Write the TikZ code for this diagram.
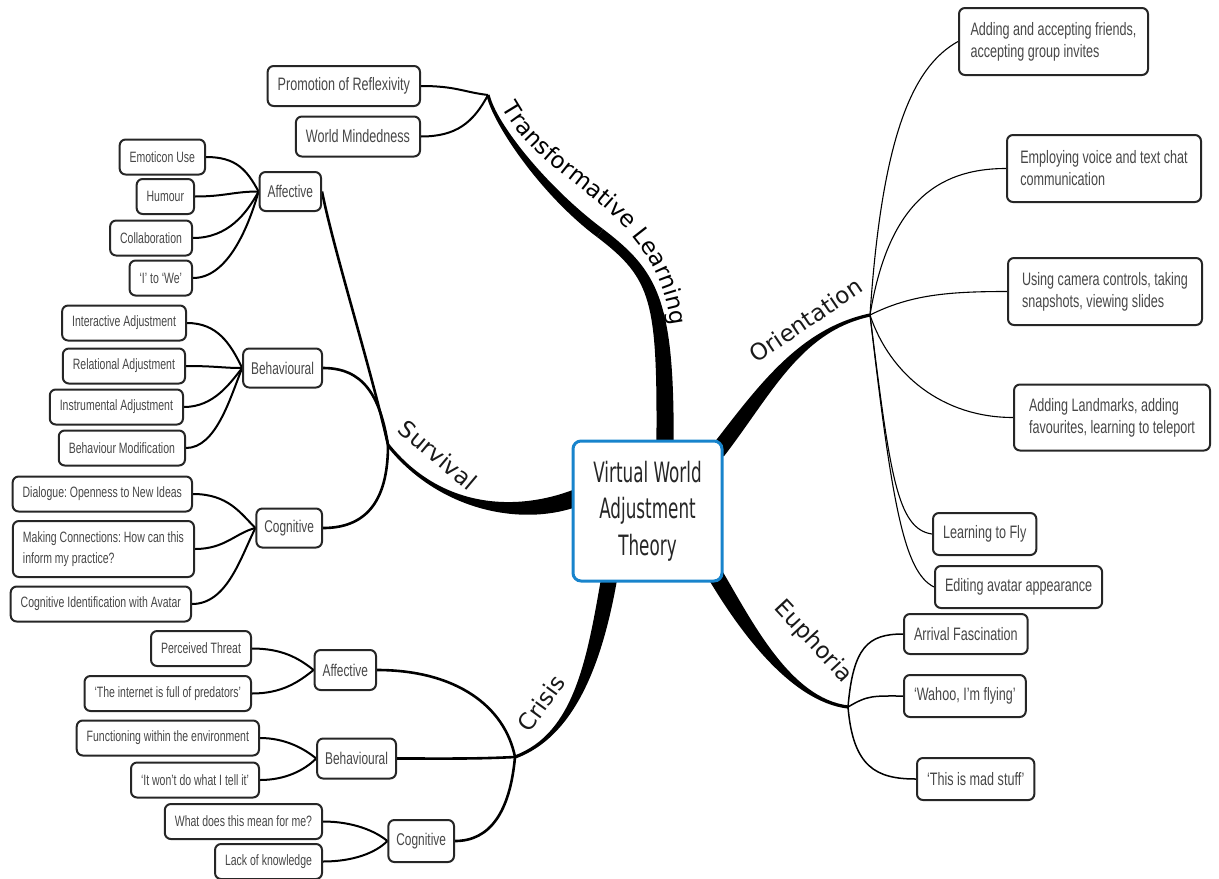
\documentclass[tikz,border=0pt]{standalone}
\usepackage{fontspec}
\setmainfont{Liberation Sans}
\newfontfamily\boxfont{Liberation Sans}[FakeStretch=0.7]
\newfontfamily\labelfont{DejaVu Sans}
\newfontfamily\centrefont{DejaVu Sans}[FakeStretch=0.6]
\usetikzlibrary{calc,decorations.text}
\definecolor{vwblue}{RGB}{24,132,204}
\pgfdeclarelayer{bg}
\pgfsetlayers{bg,main}
\frenchspacing
\newcommand{\tlfont}{\labelfont\fontsize{11.5}{12}\selectfont}
% tapered branch: start, control 1, control 2, end, half width at start, at end
\newcommand{\mmbranch}[6]{%
  \coordinate (bA) at ($(#1)!#5!90:(#2)$);
  \coordinate (bB) at ($(#1)!#5!-90:(#2)$);
  \coordinate (bC) at ($(#4)!#6!-90:(#3)$);
  \coordinate (bD) at ($(#4)!#6!90:(#3)$);
  \fill (bA) .. controls ($(#2)+(bA)-(#1)$) and ($(#3)+(bC)-(#4)$) .. (bC)
    -- (bD) .. controls ($(#3)+(bD)-(#4)$) and ($(#2)+(bB)-(#1)$) .. (bB) -- cycle;
}

\begin{document}
\begin{tikzpicture}[x=0.5pt,y=-0.5pt,
    box/.style={draw=black!85,line width=1pt,rounded corners=3pt,fill=white,
                text=black!72,inner xsep=5pt,inner ysep=2pt,align=left},
    big/.style={box,font=\boxfont\fontsize{9}{11}\selectfont,minimum height=20pt},
    mid/.style={box,font=\boxfont\fontsize{8.5}{10}\selectfont,minimum height=19.5pt,inner xsep=4pt},
    small/.style={box,font=\boxfont\fontsize{7.5}{10.5}\selectfont,minimum height=17.5pt},
    stem/.style={line width=1.3pt},
    leaf/.style={line width=1pt},
    fine/.style={line width=0.75pt},
    thin/.style={line width=0.55pt},
    blabel/.style={font=\labelfont\fontsize{11.5}{12}\selectfont,text=black!90,inner sep=0pt}]

  \useasboundingbox (0,0) rectangle (1219,878);

  \node[draw=vwblue,line width=1.5pt,rounded corners=4pt,fill=white,minimum width=74.5pt,
        minimum height=70pt,align=center,font=\centrefont\fontsize{14}{18.3}\selectfont,
        text=black!85] (VW) at (647.5,511) {Virtual World\\Adjustment\\Theory};

  \coordinate (TL) at (488,95);
  \coordinate (TLm) at (600,233);
  \coordinate (OR) at (870,315);
  \coordinate (EU) at (848,707);
  \coordinate (SV) at (388,445);
  \coordinate (CR) at (515,757);
  \coordinate (VWtl) at ($(VW.north)+(17.5,6)$);
  \coordinate (VWor) at ($(VW.north east)+(-6,12)$);
  \coordinate (VWeu) at ($(VW.south east)+(-9,-9)$);
  \coordinate (VWcr) at ($(VW.south)+(-38,-6)$);
  \coordinate (VWsv) at ($(VW.west)+(7,-14)$);

  \node[big,anchor=east] (PR) at (421,86) {Promotion of Reflexivity};
  \node[big,anchor=east] (WM) at (421,136.5) {World Mindedness};

  \node[mid,anchor=east] (SAF) at (322,191.5) {Affective};
  \node[mid,anchor=east] (SBE) at (323,368) {Behavioural};
  \node[mid,anchor=east] (SCO) at (323,528) {Cognitive};
  \node[small,anchor=east] (EM) at (206,157) {Emoticon Use};
  \node[small,anchor=east] (HU) at (195,196.5) {Humour};
  \node[small,anchor=east] (CL) at (193,238) {Collaboration};
  \node[small,anchor=east] (IW) at (193,278) {‘I’ to ‘We’};
  \node[small,anchor=east] (IA) at (187,323) {Interactive Adjustment};
  \node[small,anchor=east] (RA) at (186,366) {Relational Adjustment};
  \node[small,anchor=east] (NA) at (184,407) {Instrumental Adjustment};
  \node[small,anchor=east] (BM) at (186,448) {Behaviour Modification};
  \node[small,anchor=east] (DI) at (193,494) {Dialogue: Openness to New Ideas};
  \node[small,anchor=east,minimum height=28pt] (MC) at (195,549) {Making Connections: How can this\\inform my practice?};
  \node[small,anchor=east] (CI) at (192,604) {Cognitive Identification with Avatar};

  \node[mid,anchor=east,minimum height=20pt] (CAF) at (377,670) {Affective};
  \node[mid,anchor=east,minimum height=20pt] (CBE) at (397,758.5) {Behavioural};
  \node[mid,anchor=east,minimum height=21pt] (CCO) at (455,841) {Cognitive};
  \node[small,anchor=east] (PT) at (252,648.5) {Perceived Threat};
  \node[small,anchor=east] (IP) at (252,693.5) {‘The internet is full of predators’};
  \node[small,anchor=east] (FE) at (260,738) {Functioning within the environment};
  \node[small,anchor=east] (TI) at (260,780) {‘It won’t do what I tell it’};
  \node[small,anchor=east] (WD) at (323,821.5) {What does this mean for me?};
  \node[small,anchor=east] (LK) at (323,861.5) {Lack of knowledge};

  \node[big,anchor=west,minimum height=33.5pt,minimum width=94.5pt] (AF) at (958,41.5) {Adding and accepting friends,\\accepting group invites};
  \node[big,anchor=west,minimum height=33.5pt,minimum width=97pt] (EV) at (1006,168.5) {Employing voice and text chat\\communication};
  \node[big,anchor=west,minimum height=33.5pt,minimum width=97pt] (UC) at (1007,291.5) {Using camera controls, taking\\snapshots, viewing slides};
  \node[big,anchor=west,minimum height=33pt,minimum width=98pt] (AL) at (1013,417.5) {Adding Landmarks, adding\\favourites, learning to teleport};
  \node[big,anchor=west,minimum height=21pt] (LF) at (932,534) {Learning to Fly};
  \node[big,anchor=west,minimum height=21pt] (EA) at (934,587) {Editing avatar appearance};

  \node[big,anchor=west] (AR) at (903,634) {Arrival Fascination};
  \node[big,anchor=west,minimum height=21pt] (WA) at (903,696) {‘Wahoo, I’m flying’};
  \node[big,anchor=west,minimum height=21pt] (MS) at (916,779) {‘This is mad stuff’};

  \node[blabel,rotate=34] (ORl) at (806,320) {Orientation};
  \node[blabel,rotate=-40] (SVl) at (438,455) {Survival};
  \node[blabel,rotate=54] (CRl) at (541,703) {Crisis};
  \node[blabel,rotate=-47] (EUl) at (813,642) {Euphoria};
  \path[decorate,decoration={text along path,text align=center,
        text={|\tlfont|Transformative Learning}}]
    (498,100) .. controls (540,190) and (660,200) .. (672,335);

  \begin{pgfonlayer}{bg}
    \mmbranch{VWtl}{666,300}{655,275}{TLm}{4.3pt}{2.5pt}
    \mmbranch{TLm}{545,192}{495,125}{TL}{2.5pt}{0.8pt}
    \mmbranch{VWor}{765,390}{800,330}{OR}{4pt}{0.8pt}
    \mmbranch{VWeu}{745,625}{790,700}{EU}{4pt}{0.8pt}
    \mmbranch{VWsv}{520,520}{440,510}{SV}{4.3pt}{0.8pt}
    \mmbranch{VWcr}{595,660}{575,735}{CR}{4pt}{0.8pt}

    \draw[leaf] (TL) .. controls +(-25,-3) and +(35,0) .. (PR.east);
    \draw[leaf] (TL) .. controls +(-15,28) and +(35,0) .. (WM.east);

    \draw[stem] (SV) .. controls +(-18,-80) and +(12,60) .. (SAF.east);
    \draw[stem] (SV) .. controls +(-8,-50) and +(40,0) .. (SBE.east);
    \draw[stem] (SV) .. controls +(0,60) and +(40,0) .. (SCO.east);
    \draw[leaf] (EM.east) .. controls +(30,0) and +(-12,-22) .. (SAF.west);
    \draw[leaf] (HU.east) .. controls +(30,0) and +(-25,0) .. (SAF.west);
    \draw[leaf] (CL.east) .. controls +(35,0) and +(-12,22) .. (SAF.west);
    \draw[leaf] (IW.east) .. controls +(35,0) and +(-10,35) .. (SAF.west);
    \draw[leaf] (IA.east) .. controls +(30,0) and +(-12,-25) .. (SBE.west);
    \draw[leaf] (RA.east) .. controls +(30,0) and +(-20,0) .. (SBE.west);
    \draw[leaf] (NA.east) .. controls +(30,0) and +(-12,15) .. (SBE.west);
    \draw[leaf] (BM.east) .. controls +(30,0) and +(-12,30) .. (SBE.west);
    \draw[leaf] (DI.east) .. controls +(35,0) and +(-15,-15) .. (SCO.west);
    \draw[leaf] (MC.east) .. controls +(30,0) and +(-20,5) .. (SCO.west);
    \draw[leaf] (CI.east) .. controls +(35,0) and +(-15,30) .. (SCO.west);

    \draw[stem] (CR) .. controls +(-10,-50) and +(80,0) .. (CAF.east);
    \draw[stem] (CR) .. controls +(-40,2) and +(50,0) .. (CBE.east);
    \draw[stem] (CR) .. controls +(-5,55) and +(35,0) .. (CCO.east);
    \draw[leaf] (PT.east) .. controls +(30,0) and +(-15,-12) .. (CAF.west);
    \draw[leaf] (IP.east) .. controls +(30,0) and +(-15,12) .. (CAF.west);
    \draw[leaf] (FE.east) .. controls +(25,0) and +(-12,-10) .. (CBE.west);
    \draw[leaf] (TI.east) .. controls +(25,0) and +(-12,12) .. (CBE.west);
    \draw[leaf] (WD.east) .. controls +(30,0) and +(-12,-10) .. (CCO.west);
    \draw[leaf] (LK.east) .. controls +(30,0) and +(-12,12) .. (CCO.west);

    \draw[thin] (OR) .. controls +(12,-180) and +(-45,25) .. (AF.west);
    \draw[thin] (OR) .. controls +(18,-110) and +(-70,0) .. (EV.west);
    \draw[thin] (OR) .. controls +(40,-20) and +(-60,0) .. (UC.west);
    \draw[thin] (OR) .. controls +(20,60) and +(-70,0) .. (AL.west);
    \draw[thin] (OR) .. controls +(20,160) and +(-35,-5) .. (LF.west);
    \draw[thin] (OR) .. controls +(22,190) and +(-30,-15) .. (EA.west);

    \draw[fine] (EU) .. controls +(5,-60) and +(-35,0) .. (AR.west);
    \draw[fine] (EU) .. controls +(20,-12) and +(-30,0) .. (WA.west);
    \draw[fine] (EU) .. controls +(5,60) and +(-40,0) .. (MS.west);
  \end{pgfonlayer}
\end{tikzpicture}
\end{document}
